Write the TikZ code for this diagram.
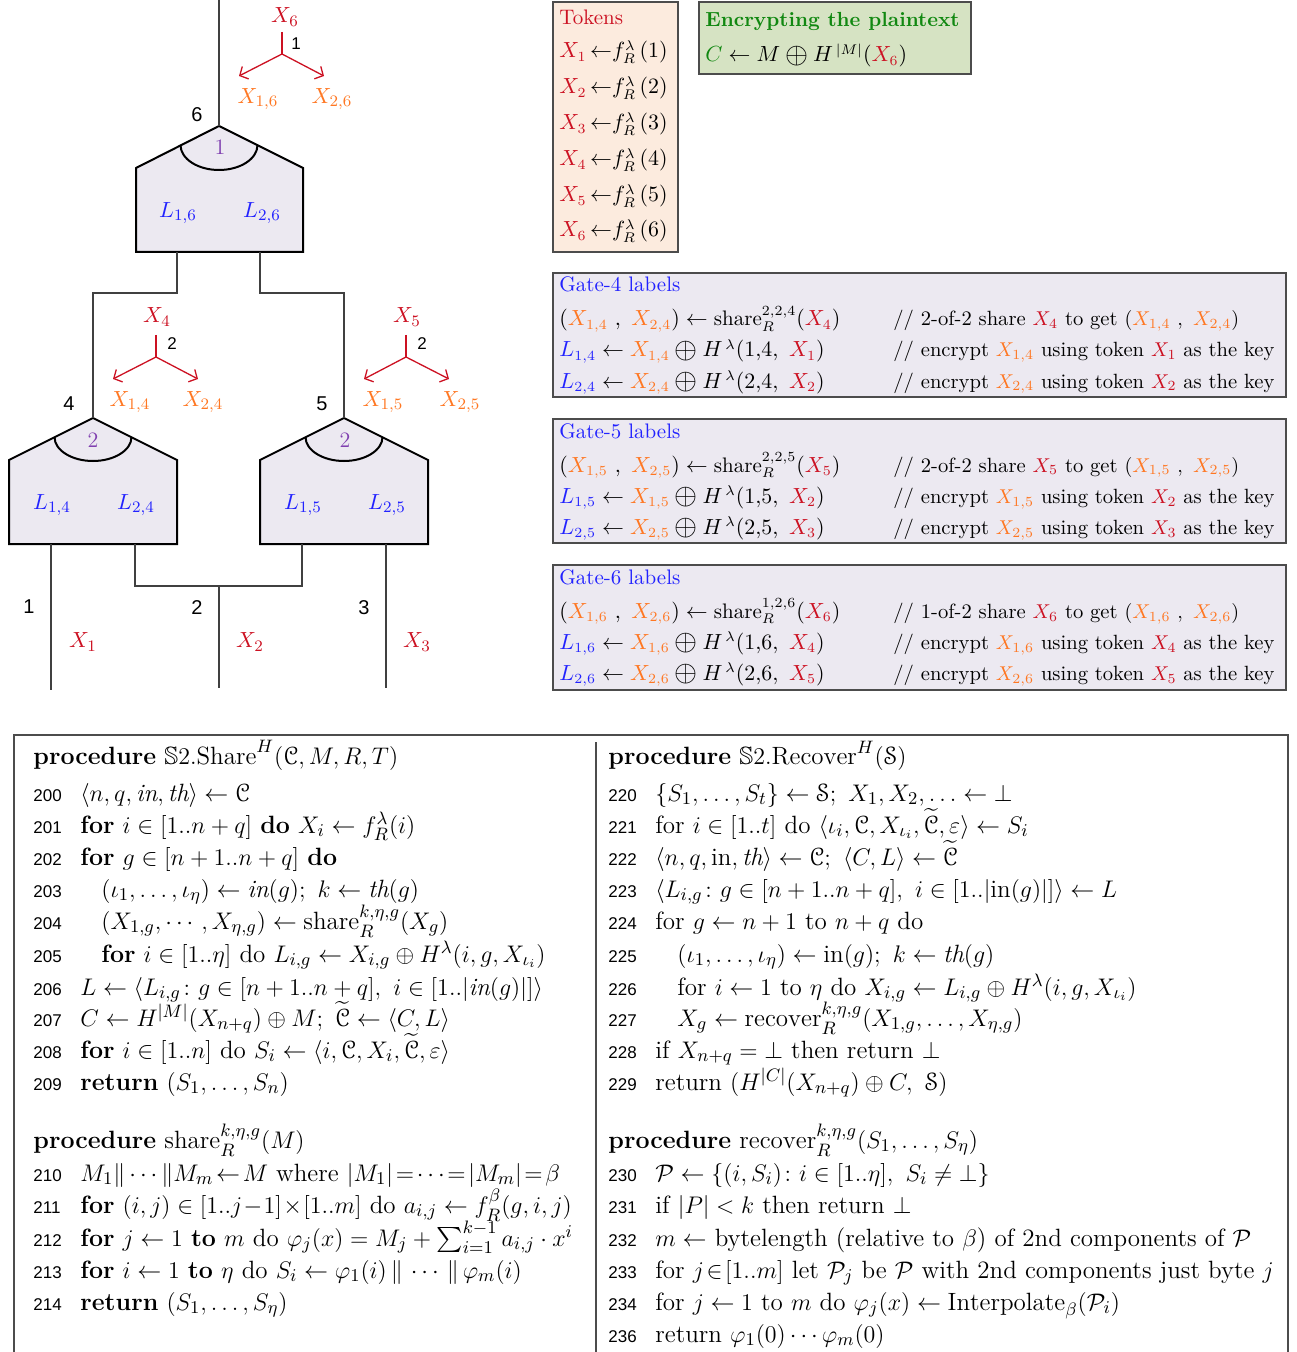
\documentclass[tikz,border=0pt]{standalone}
\usepackage{fontspec}
\usepackage{amsmath,amssymb}
\usepackage[mathscr]{eucal}
\newfontfamily\sff{Liberation Sans}
\usetikzlibrary{arrows.meta}
\definecolor{tokred}{RGB}{204,17,34}
\definecolor{shorange}{RGB}{255,119,34}
\definecolor{lblue}{RGB}{34,34,255}
\definecolor{gpurple}{RGB}{128,64,176}
\definecolor{egreen}{RGB}{17,136,17}
\definecolor{gatefill}{RGB}{236,233,241}
\definecolor{tokfill}{RGB}{252,235,222}
\definecolor{encfill}{RGB}{214,227,195}
\newcommand{\XR}[1]{{\color{tokred}X_{#1}}}
\newcommand{\XO}[1]{{\color{shorange}X_{#1}}}
\newcommand{\LB}[1]{{\color{lblue}L_{#1}}}
\newcommand{\bop}{\mathbin{\vcenter{\hbox{\scalebox{1.35}{$\oplus$}}}}}
\newcommand{\codeline}[5]{\node[numtxt] (n#1) at (#2,#4) {#1};\node[codetxt] (c#1) at (#3,#4) {#5};}
\begin{document}
\begin{tikzpicture}[x=0.5pt,y=-0.5pt,
  wire/.style={black!75, line width=0.6pt},
  gateshape/.style={draw=black, line width=1pt, fill=gatefill, line join=miter},
  splitline/.style={tokred, line width=0.65pt},
  splitarrow/.style={tokred, line width=0.65pt, -{Straight Barb[length=3.2pt,width=7pt]}},
  sflabel/.style={font=\sff\fontsize{10}{12}\selectfont, inner sep=0pt},
  sfsmall/.style={font=\sff\fontsize{8.5}{10}\selectfont, inner sep=0pt},
  clabel/.style={font=\fontsize{11}{13}\selectfont, inner sep=0pt},
  panel/.style={draw=black!70, line width=0.6pt},
  ptxt/.style={anchor=base west, inner sep=0pt, font=\fontsize{10.5}{12}\selectfont},
  ctxt/.style={anchor=base west, inner sep=0pt, font=\fontsize{10.3}{12}\selectfont},
  numtxt/.style={anchor=base west, inner sep=0pt, font=\sff\fontsize{8.5}{10}\selectfont},
  codetxt/.style={anchor=base west, inner sep=0pt, font=\fontsize{12.5}{14}\selectfont},
]
\useasboundingbox (0,0) rectangle (1296,1352);

% ---------------- circuit ----------------
% gate 6
\filldraw[gateshape] (219,126) -- (303,168) -- (303,252) -- (136,252) -- (136,168) -- cycle;
\draw[line width=1pt] (180.5,145) arc[start angle=180,end angle=360,x radius=19.25pt,y radius=12.5pt];
% gate 4
\filldraw[gateshape] (93,418) -- (177,460) -- (177,544) -- (9,544) -- (9,460) -- cycle;
\draw[line width=1pt] (54.5,437) arc[start angle=180,end angle=360,x radius=19.25pt,y radius=12pt];
% gate 5
\filldraw[gateshape] (344,418) -- (428,460) -- (428,544) -- (260,544) -- (260,460) -- cycle;
\draw[line width=1pt] (305.5,437) arc[start angle=180,end angle=360,x radius=19.25pt,y radius=12pt];

\node[clabel, text=gpurple] (t6) at (220,147) {1};
\node[clabel, text=gpurple] (t4) at (93,440) {2};
\node[clabel, text=gpurple] (t5) at (345,440) {2};

\node[clabel] (l16) at (178,213) {$\LB{1,6}$};
\node[clabel] (l26) at (262,213) {$\LB{2,6}$};
\node[clabel] (l14) at (52,505) {$\LB{1,4}$};
\node[clabel] (l24) at (136,505) {$\LB{2,4}$};
\node[clabel] (l15) at (303,505) {$\LB{1,5}$};
\node[clabel] (l25) at (387,505) {$\LB{2,5}$};

% wire coordinates
\coordinate (top6) at (219,0);
\coordinate (apex6) at (219,126);
\coordinate (apex4) at (93,418);
\coordinate (apex5) at (344,418);
\coordinate (g6a) at (177,252);
\coordinate (g6b) at (260,252);
\coordinate (g4a) at (51,544);
\coordinate (g4b) at (135,544);
\coordinate (g5a) at (302,544);
\coordinate (g5b) at (386,544);
\coordinate (w1end) at (51,690);
\coordinate (w2top) at (219,586);
\coordinate (w2end) at (219,688);
\coordinate (w3end) at (386,688);
\coordinate (j4) at (93,293);
\coordinate (j5) at (344,293);

\draw[wire] (top6) -- (apex6);
\draw[wire] (g6a) |- (j4) -- (apex4);
\draw[wire] (g6b) |- (j5) -- (apex5);
\draw[wire] (g4a) -- (w1end);
\draw[wire] (g4b) |- (w2top) -| (g5a);
\draw[wire] (w2top) -- (w2end);
\draw[wire] (g5b) -- (w3end);

\node[sflabel] (n6) at (197,115) {6};
\node[sflabel] (n4) at (69,404) {4};
\node[sflabel] (n5) at (322,404) {5};
\node[sflabel] (n1) at (29,607) {1};
\node[sflabel] (n2) at (197,608) {2};
\node[sflabel] (n3) at (364,608) {3};

\node[clabel] (x1w) at (83,642) {$\XR{1}$};
\node[clabel] (x2w) at (250,642) {$\XR{2}$};
\node[clabel] (x3w) at (417,642) {$\XR{3}$};

% split X6
\node[clabel] (sx6) at (285,17) {$\XR{6}$};
\coordinate (s6t) at (282,32);
\coordinate (s6) at (282,54);
\coordinate (s6l) at (239,76);
\coordinate (s6r) at (324,76);
\draw[splitline] (s6t) -- (s6);
\draw[splitarrow] (s6) -- (s6l);
\draw[splitarrow] (s6) -- (s6r);
\node[sfsmall] (k6) at (296,44) {1};
\node[clabel] (x16) at (258,99) {$\XO{1,6}$};
\node[clabel] (x26) at (332,99) {$\XO{2,6}$};

% split X4
\node[clabel] (sx4) at (157,317) {$\XR{4}$};
\coordinate (s4t) at (156,335);
\coordinate (s4) at (156,357);
\coordinate (s4l) at (113,379);
\coordinate (s4r) at (198,379);
\draw[splitline] (s4t) -- (s4);
\draw[splitarrow] (s4) -- (s4l);
\draw[splitarrow] (s4) -- (s4r);
\node[sfsmall] (k4) at (172,344) {2};
\node[clabel] (x14) at (130,402) {$\XO{1,4}$};
\node[clabel] (x24) at (203,402) {$\XO{2,4}$};

% split X5
\node[clabel] (sx5) at (407,317) {$\XR{5}$};
\coordinate (s5t) at (406,335);
\coordinate (s5) at (406,357);
\coordinate (s5l) at (364,379);
\coordinate (s5r) at (449,379);
\draw[splitline] (s5t) -- (s5);
\draw[splitarrow] (s5) -- (s5l);
\draw[splitarrow] (s5) -- (s5r);
\node[sfsmall] (k5) at (422,344) {2};
\node[clabel] (x15) at (383,402) {$\XO{1,5}$};
\node[clabel] (x25) at (460,402) {$\XO{2,5}$};

% ---------------- tokens ----------------
\filldraw[panel, fill=tokfill] (553,2) rectangle (678,252);
\node[ptxt, text=tokred] (toktitle) at (559,25) {Tokens};
\foreach \i/\yy in {1/58,2/94,3/130,4/166,5/202,6/237}{
  \node[ptxt] (tok\i) at (559,\yy) {$\XR{\i}\,{\leftarrow}f^{\lambda}_{R}\,(\i)$};
}

% ---------------- encrypting ----------------
\filldraw[panel, fill=encfill] (699,2) rectangle (971,74);
\node[ptxt, text=egreen, font=\fontsize{10.2}{12}\selectfont] (enctitle) at (705,27) {\bfseries Encrypting the plaintext};
\node[ptxt] (encf) at (705,62) {${\color{egreen}C}\leftarrow M\bop H^{\,|M|}(\XR{6})$};

% ---------------- gate label panels ----------------
\filldraw[panel, fill=gatefill] (553,273) rectangle (1286,397);
\filldraw[panel, fill=gatefill] (553,419) rectangle (1286,543);
\filldraw[panel, fill=gatefill] (553,565) rectangle (1286,690);

\node[ptxt, text=lblue] (g4t) at (559,292) {Gate-4 labels};
\node[ptxt] (g4a1) at (559,326) {$(\XO{1,4}\ ,\ \XO{2,4})\leftarrow\mathrm{share}^{2,2,4}_{R}(\XR{4})$};
\node[ptxt] (g4a2) at (559,357) {$\LB{1,4}\leftarrow\XO{1,4}\bop H^{\,\lambda}(1{,}4,\ \XR{1})$};
\node[ptxt] (g4a3) at (559,388) {$\LB{2,4}\leftarrow\XO{2,4}\bop H^{\,\lambda}(2{,}4,\ \XR{2})$};
\node[ctxt] (g4c1) at (893,326) {// 2-of-2 share $\XR{4}$ to get $(\XO{1,4}\ ,\ \XO{2,4})$};
\node[ctxt] (g4c2) at (893,357) {// encrypt $\XO{1,4}$ using token $\XR{1}$ as the key};
\node[ctxt] (g4c3) at (893,388) {// encrypt $\XO{2,4}$ using token $\XR{2}$ as the key};

\node[ptxt, text=lblue] (g5t) at (559,438) {Gate-5 labels};
\node[ptxt] (g5a1) at (559,472) {$(\XO{1,5}\ ,\ \XO{2,5})\leftarrow\mathrm{share}^{2,2,5}_{R}(\XR{5})$};
\node[ptxt] (g5a2) at (559,503) {$\LB{1,5}\leftarrow\XO{1,5}\bop H^{\,\lambda}(1{,}5,\ \XR{2})$};
\node[ptxt] (g5a3) at (559,534) {$\LB{2,5}\leftarrow\XO{2,5}\bop H^{\,\lambda}(2{,}5,\ \XR{3})$};
\node[ctxt] (g5c1) at (893,472) {// 2-of-2 share $\XR{5}$ to get $(\XO{1,5}\ ,\ \XO{2,5})$};
\node[ctxt] (g5c2) at (893,503) {// encrypt $\XO{1,5}$ using token $\XR{2}$ as the key};
\node[ctxt] (g5c3) at (893,534) {// encrypt $\XO{2,5}$ using token $\XR{3}$ as the key};

\node[ptxt, text=lblue] (g6t) at (559,584) {Gate-6 labels};
\node[ptxt] (g6a1) at (559,618) {$(\XO{1,6}\ ,\ \XO{2,6})\leftarrow\mathrm{share}^{1,2,6}_{R}(\XR{6})$};
\node[ptxt] (g6a2) at (559,649) {$\LB{1,6}\leftarrow\XO{1,6}\bop H^{\,\lambda}(1{,}6,\ \XR{4})$};
\node[ptxt] (g6a3) at (559,680) {$\LB{2,6}\leftarrow\XO{2,6}\bop H^{\,\lambda}(2{,}6,\ \XR{5})$};
\node[ctxt] (g6c1) at (893,618) {// 1-of-2 share $\XR{6}$ to get $(\XO{1,6}\ ,\ \XO{2,6})$};
\node[ctxt] (g6c2) at (893,649) {// encrypt $\XO{1,6}$ using token $\XR{4}$ as the key};
\node[ctxt] (g6c3) at (893,680) {// encrypt $\XO{2,6}$ using token $\XR{5}$ as the key};

% ---------------- procedures ----------------
\draw[panel] (14,1352) -- (14,735) -- (1288,735) -- (1288,1352);
\draw[panel] (596,742) -- (596,1352);

\node[codetxt] (p1) at (33,764) {\textbf{procedure} $\mathbb{S}2.\mathrm{Share}^{H}(\mathscr{C},M,R,T)$};
\codeline{200}{33}{80}{801}{$\langle n,q,\mathit{in},\mathit{th}\rangle\leftarrow\mathscr{C}$}
\codeline{201}{33}{80}{833}{\textbf{for} $i\in[1..n+q]$ \textbf{do} $X_i\leftarrow f^{\lambda}_{R}(i)$}
\codeline{202}{33}{80}{865}{\textbf{for} $g\in[n+1..n+q]$ \textbf{do}}
\codeline{203}{33}{101}{897}{$(\iota_1,\ldots,\iota_\eta)\leftarrow\mathit{in}(g);\ k\leftarrow\mathit{th}(g)$}
\codeline{204}{33}{101}{929}{$(X_{1,g},\cdots,X_{\eta,g})\leftarrow\mathrm{share}^{k,\eta,g}_{R}(X_g)$}
\codeline{205}{33}{101}{962}{\textbf{for} $i\in[1..\eta]$ do $L_{i,g}\leftarrow X_{i,g}\oplus H^{\lambda}(i,g,X_{\iota_i})$}
\codeline{206}{33}{80}{995}{$L\leftarrow\langle L_{i,g}\colon g\in[n+1..n+q],\ i\in[1..|\mathit{in}(g)|]\rangle$}
\codeline{207}{33}{80}{1026}{$C\leftarrow H^{|M|}(X_{n+q})\oplus M;\ \widetilde{\mathscr{C}}\leftarrow\langle C,L\rangle$}
\codeline{208}{33}{80}{1058}{\textbf{for} $i\in[1..n]$ do $S_i\leftarrow\langle i,\mathscr{C},X_i,\widetilde{\mathscr{C}},\varepsilon\rangle$}
\codeline{209}{33}{80}{1090}{\textbf{return} $(S_1,\ldots,S_n)$}

\node[codetxt] (p2) at (33,1148) {\textbf{procedure} $\mathrm{share}^{k,\eta,g}_{R}(M)$};
\codeline{210}{33}{80}{1181}{$M_1\|\cdots\|M_m\!\leftarrow\! M$ where $|M_1|\!=\!\cdots\!=\!|M_m|\!=\!\beta$}
\codeline{211}{33}{80}{1213}{\textbf{for} $(i,j)\in[1..j\!-\!1]\!\times\![1..m]$ do $a_{i,j}\leftarrow f^{\beta}_{R}(g,i,j)$}
\codeline{212}{33}{80}{1246}{\textbf{for} $j\leftarrow1$ \textbf{to} $m$ do $\varphi_j(x)=M_j+\sum_{i=1}^{k-1}a_{i,j}\cdot x^i$}
\codeline{213}{33}{80}{1278}{\textbf{for} $i\leftarrow1$ \textbf{to} $\eta$ do $S_i\leftarrow\varphi_1(i)\,\|\,\cdots\,\|\,\varphi_m(i)$}
\codeline{214}{33}{80}{1310}{\textbf{return} $(S_1,\ldots,S_\eta)$}

\node[codetxt] (p3) at (608,764) {\textbf{procedure} $\mathbb{S}2.\mathrm{Recover}^{H}(\mathscr{S})$};
\codeline{220}{608}{655}{801}{$\{S_1,\ldots,S_t\}\leftarrow\mathscr{S};\ X_1,X_2,\ldots\leftarrow\bot$}
\codeline{221}{608}{655}{833}{for $i\in[1..t]$ do $\langle\iota_i,\mathscr{C},X_{\iota_i},\widetilde{\mathscr{C}},\varepsilon\rangle\leftarrow S_i$}
\codeline{222}{608}{655}{865}{$\langle n,q,\mathrm{in},\mathit{th}\rangle\leftarrow\mathscr{C};\ \langle C,L\rangle\leftarrow\widetilde{\mathscr{C}}$}
\codeline{223}{608}{655}{897}{$\langle L_{i,g}\colon g\in[n+1..n+q],\ i\in[1..|\mathrm{in}(g)|]\rangle\leftarrow L$}
\codeline{224}{608}{655}{929}{for $g\leftarrow n+1$ to $n+q$ do}
\codeline{225}{608}{677}{962}{$(\iota_1,\ldots,\iota_\eta)\leftarrow\mathrm{in}(g);\ k\leftarrow\mathit{th}(g)$}
\codeline{226}{608}{677}{995}{for $i\leftarrow1$ to $\eta$ do $X_{i,g}\leftarrow L_{i,g}\oplus H^{\lambda}(i,g,X_{\iota_i})$}
\codeline{227}{608}{677}{1026}{$X_g\leftarrow\mathrm{recover}^{k,\eta,g}_{R}(X_{1,g},\ldots,X_{\eta,g})$}
\codeline{228}{608}{655}{1058}{if $X_{n+q}=\bot$ then return $\bot$}
\codeline{229}{608}{655}{1090}{return $(H^{|C|}(X_{n+q})\oplus C,\ \mathscr{S})$}

\node[codetxt] (p4) at (608,1148) {\textbf{procedure} $\mathrm{recover}^{k,\eta,g}_{R}(S_1,\ldots,S_\eta)$};
\codeline{230}{608}{655}{1181}{$\mathcal{P}\leftarrow\{(i,S_i)\colon i\in[1..\eta],\ S_i\neq\bot\}$}
\codeline{231}{608}{655}{1213}{if $|P|<k$ then return $\bot$}
\codeline{232}{608}{655}{1246}{$m\leftarrow$ bytelength (relative to $\beta$) of 2nd components of $\mathcal{P}$}
\codeline{233}{608}{655}{1278}{for $j\!\in\![1..m]$ let $\mathcal{P}_j$ be $\mathcal{P}$ with 2nd components just byte $j$}
\codeline{234}{608}{655}{1310}{for $j\leftarrow1$ to $m$ do $\varphi_j(x)\leftarrow\mathrm{Interpolate}_{\beta}(\mathcal{P}_i)$}
\codeline{236}{608}{655}{1342}{return $\varphi_1(0)\cdots\varphi_m(0)$}
\end{tikzpicture}
\end{document}
